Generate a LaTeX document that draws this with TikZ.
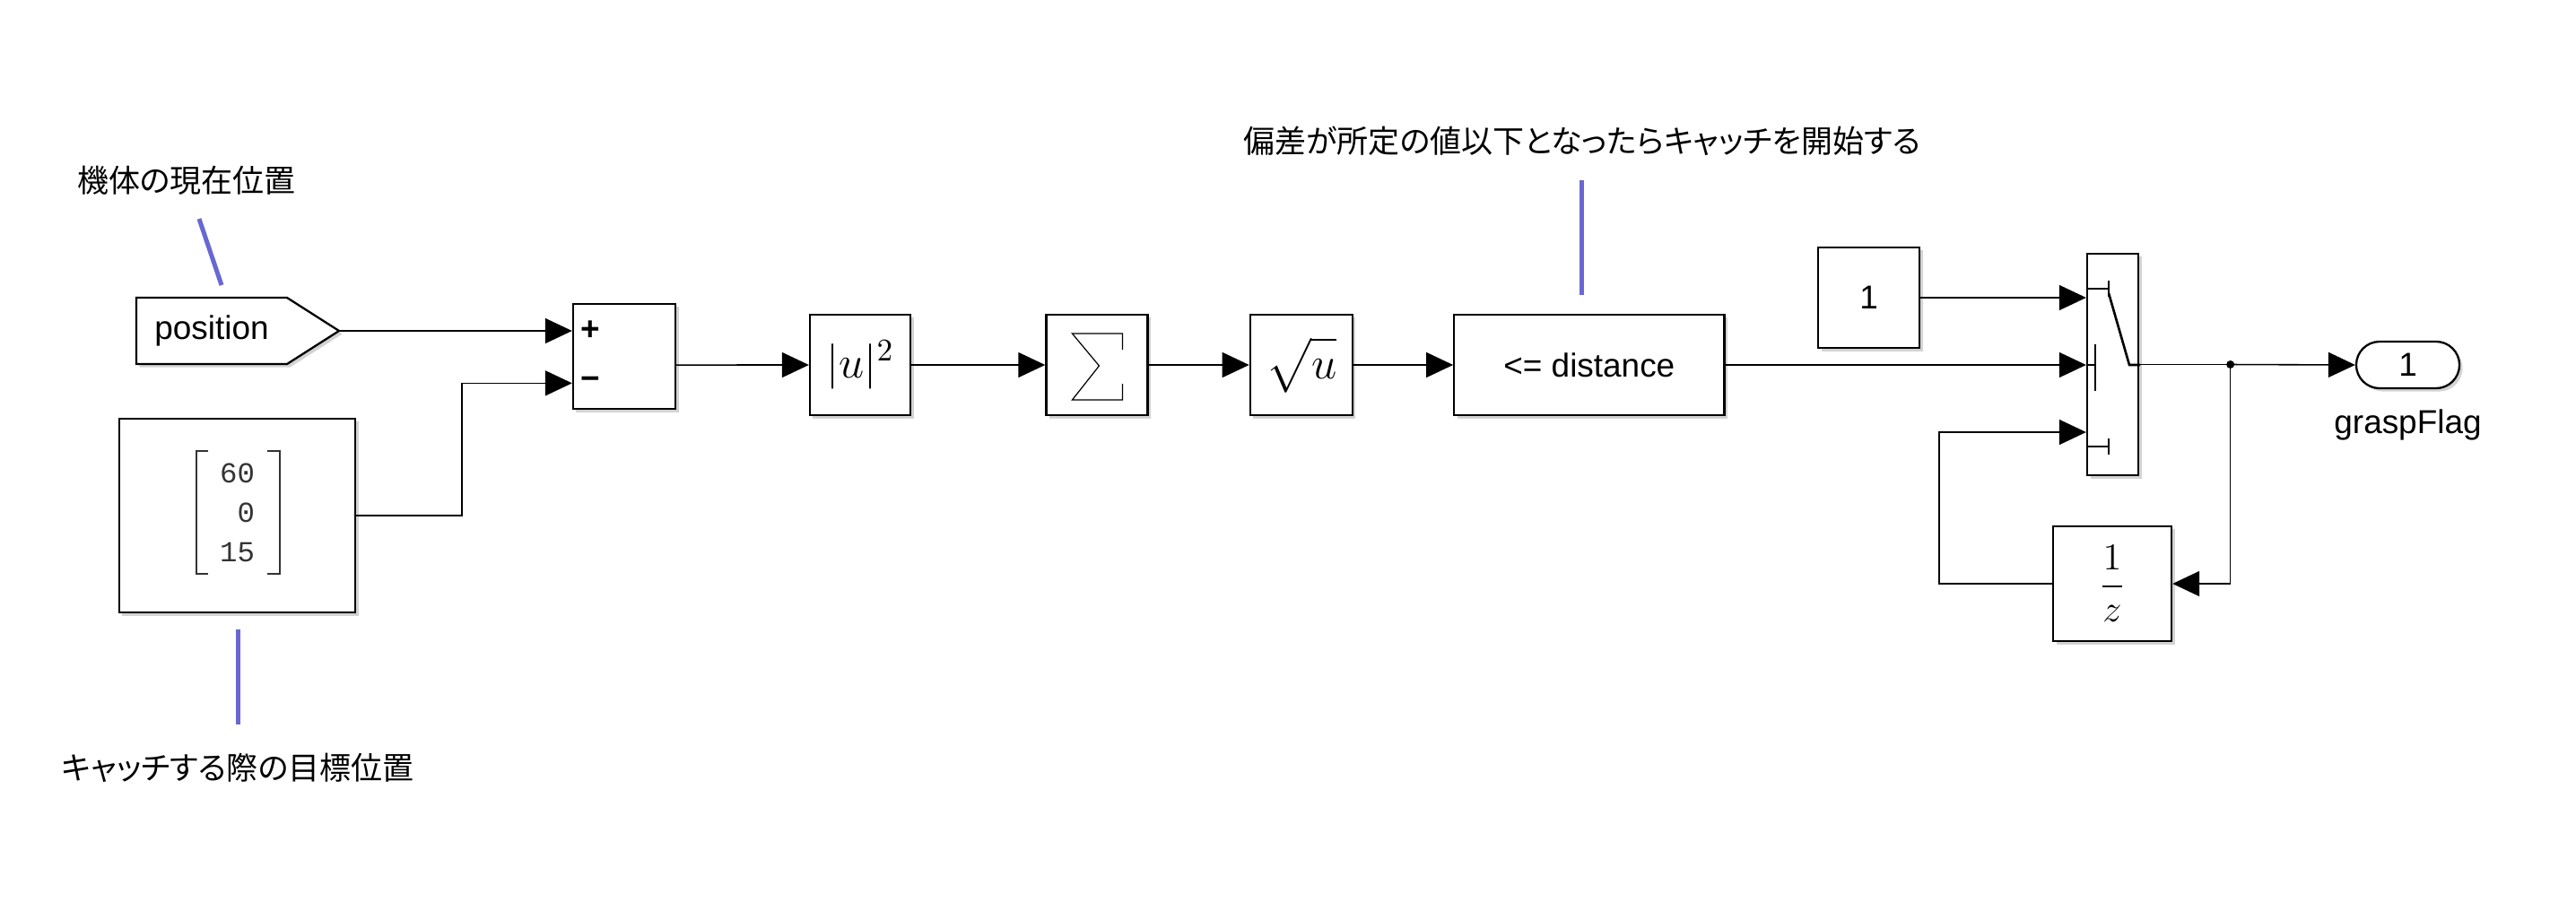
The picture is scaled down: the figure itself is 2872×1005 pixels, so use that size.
\documentclass[tikz,border=0pt]{standalone}
\usepackage[no-math]{fontspec}
\usepackage{amsmath}
\setmainfont{Liberation Sans}
\newfontfamily\jpfont[RawFeature=+palt]{Noto Sans CJK JP}
\newfontfamily\matfont{Liberation Mono}
\usetikzlibrary{positioning, calc, arrows.meta, shapes.misc, shadows}
\definecolor{notecol}{RGB}{104,104,210}

\begin{document}
\begin{tikzpicture}[x=0.01cm, y=-0.01cm,
	blk/.style={draw, line width=0.65pt, fill=white, inner sep=0pt, drop shadow={shadow xshift=1pt, shadow yshift=-1pt, opacity=0.35}},
	sig/.style={line width=0.45pt, -{Triangle[length=0.3cm, width=0.28cm]}},
	wire/.style={line width=0.45pt},
	note/.style={draw=notecol, line width=0.05cm},
	icon/.style={line width=0.75pt},
	jp/.style={font=\jpfont\fontsize{9.95pt}{12pt}\selectfont, inner sep=0pt},
	lbl/.style={font=\fontsize{10.5pt}{12pt}\selectfont, inner sep=0pt},
	sgn/.style={font=\bfseries\fontsize{10.5pt}{12pt}\selectfont, inner sep=0pt}]
	
	\useasboundingbox (0,0) rectangle (2872,1005);
	
	\node[jp] (t1) at (208,201) {機体の現在位置};
	\node[jp] (t2) at (265,856) {キャッチする際の目標位置};
	\node[jp] (t3) at (1764,157) {偏差が所定の値以下となったらキャッチを開始する};
	
	\draw[note] (222,244) -- (247,318);
	\draw[note] (265,702) -- (265,808);
	\draw[note] (1763.5,201) -- (1763.5,329);
	
	\draw[blk] (152,332) -- (320,332) -- (378,369) -- (320,406) -- (152,406) -- cycle;
	\node[lbl] (pos) at (236,369) {position};
	\coordinate (pos-out) at (378,369);
	
	\node[blk, minimum width=2.63cm, minimum height=2.16cm] (mat) at (264.5,575) {};
	\node[font=\matfont\fontsize{9.2pt}{12.6pt}\selectfont, align=right, inner sep=0pt, text=black!80] (vals) at (264.5,572) {60\\0\\15};
	\draw[line width=0.35pt, black!80] (232,503) -| (219,640) -- (232,640);
	\draw[line width=0.35pt, black!80] (298,503) -| (312,640) -- (298,640);
	
	\node[blk, minimum width=1.14cm, minimum height=1.17cm] (sum) at (696,397.5) {};
	\coordinate (sum-in1) at (sum.west |- pos-out);
	\coordinate (sum-in2) at ($(sum.north west)!0.75!(sum.south west)$);
	\coordinate (sum-out) at ($(sum.north east)!0.58!(sum.south east)$);
	\node[sgn, right=0.09cm of sum-in1] (plus) {+};
	\node[sgn, right=0.09cm of sum-in2] (minus) {−};
	
	\node[blk, minimum width=1.12cm, minimum height=1.12cm, font=\fontsize{14pt}{16pt}\selectfont] (sq) at (959,407) {$|u|^2$};
	\node[blk, minimum width=1.13cm, minimum height=1.12cm, right=1.49cm of sq] (acc) {};
	\node[blk, minimum width=1.14cm, minimum height=1.12cm, right=1.12cm of acc, font=\fontsize{14pt}{16pt}\selectfont] (rt) {$\sqrt{\mathstrut u}$};
	\node[blk, lbl, minimum width=3.01cm, minimum height=1.12cm, right=1.11cm of rt] (cmp) {<= distance};
	\draw[line width=0.35pt] ($(acc.center)+(28.5,-17)$) -- ++(0,-18) -- ++(-56,0) -- ++(30,36) -- ++(-30,38) -- ++(56,0) -- ++(0,-18);
	
	\node[blk, lbl, minimum width=1.13cm, minimum height=1.12cm] (one) at (2083.5,332) {1};
	\node[blk, minimum width=0.57cm, minimum height=2.47cm] (sw) at (2355.5,406.5) {};
	\coordinate (sw-in3) at ($(sw.west)+(0,75.5)$);
	\draw[icon] (2327,322) -- (2351,322) (2351,313) -- (2351,331);
	\draw[icon] (2351,327) -- (2374,407) -- (2386,407);
	\draw[icon] (2327,407) -- (2336,407) (2336,384) -- (2336,436);
	\draw[icon] (2327,498) -- (2351,498) (2351,489) -- (2351,507);
	
	\node[blk, minimum width=1.32cm, minimum height=1.28cm, font=\fontsize{12pt}{14pt}\selectfont] (dly) at (2355,651) {$\dfrac{1}{z}$};
	\node[blk, lbl, rounded rectangle, minimum width=1.15cm, minimum height=0.52cm] (out) at (2684.5,407) {1};
	\node[lbl, below=0.22cm of out] (oname) {graspFlag};
	\coordinate (j) at ($(sw.east)+(101.5,0)$);
	
	\draw[sig] (pos-out) -- (sum-in1);
	\draw[sig] (mat.east) -| ($(sum-in2)+(-123,0)$) -- (sum-in2);
	\draw[sig] (sum-out) -- (sq.west);
	\draw[sig] (sq.east) -- (acc.west);
	\draw[sig] (acc.east) -- (rt.west);
	\draw[sig] (rt.east) -- (cmp.west);
	\draw[sig] (one.east) -- (one.east -| sw.west);
	\draw[sig] (cmp.east) -- (cmp.east -| sw.west);
	\draw[wire] (sw.east) -- (j);
	\draw[sig] (j) -- (out.west);
	\fill (j) circle (0.045cm);
	\draw[sig] (j) |- (dly.east);
	\draw[sig] (dly.west) -- ++(-126,0) |- (sw-in3);
\end{tikzpicture}
\end{document}
